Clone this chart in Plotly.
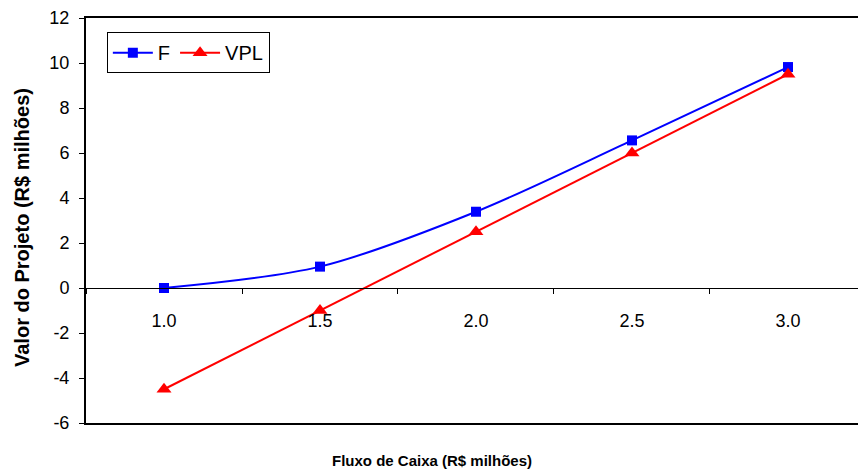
import plotly.graph_objects as go

# Cash flow (R$ millions) on the horizontal axis
fluxo = [1.0, 1.5, 2.0, 2.5, 3.0]
x_tick_text = ["1.0", "1.5", "2.0", "2.5", "3.0"]

# Value axis ticks (plain hyphen for negatives)
y_ticks = [-6, -4, -2, 0, 2, 4, 6, 8, 10, 12]
y_tick_text = ["-6", "-4", "-2", "0", "2", "4", "6", "8", "10", "12"]

# Project value series (R$ millions)
valor_f = [0.0, 0.95, 3.39, 6.56, 9.82]
valor_vpl = [-4.5, -1.0, 2.5, 6.0, 9.5]

FONT = "Arial, 'Liberation Sans', sans-serif"

fig = go.Figure()
fig.add_trace(go.Scatter(
    x=fluxo, y=valor_f, name="F", mode="lines+markers",
    line=dict(color="#0000FF", width=2, shape="spline", smoothing=0.9),
    marker=dict(symbol="square", size=10, color="#0000FF"),
))
fig.add_trace(go.Scatter(
    x=fluxo, y=valor_vpl, name="VPL", mode="lines+markers",
    line=dict(color="#FF0000", width=2),
    marker=dict(symbol="triangle-up", size=13, color="#FF0000"),
))

x_range = [0.75, 3.2244]

fig.update_layout(
    width=858, height=474,
    margin=dict(l=86, r=0, t=18, b=51),
    paper_bgcolor="white", plot_bgcolor="white",
    font=dict(family=FONT, size=18, color="black"),
    showlegend=True,
    legend=dict(
        orientation="h", x=0.027, y=0.965, xanchor="left", yanchor="top",
        bordercolor="black", borderwidth=1, bgcolor="white",
        font=dict(family=FONT, size=20, color="black"),
        itemwidth=40,
    ),
    xaxis=dict(
        range=x_range, showgrid=False, zeroline=False,
        showticklabels=False, ticks="",
        showline=True, linecolor="black", linewidth=2, mirror=True,
    ),
    # category axis drawn across the zero line
    xaxis2=dict(
        overlaying="x", anchor="free", position=1/3, side="bottom",
        range=x_range, showgrid=False, zeroline=False,
        tickmode="array", tickvals=fluxo, ticktext=x_tick_text, ticks="",
        ticklabelstandoff=16,
        showline=True, linecolor="black", linewidth=1,
        minor=dict(tick0=0.75, dtick=0.5, ticks="outside", ticklen=5,
                   tickcolor="black", tickwidth=1, showgrid=False),
        tickfont=dict(family=FONT, size=18, color="black"),
    ),
    yaxis=dict(
        range=[-6, 12], tickmode="array", tickvals=y_ticks, ticktext=y_tick_text,
        showgrid=False, zeroline=False,
        ticks="outside", ticklen=5, tickcolor="black", tickwidth=1,
        showline=True, linecolor="black", linewidth=2,
        ticklabelstandoff=6,
        tickfont=dict(family=FONT, size=18, color="black"),
    ),
)

# invisible trace to activate the zero-line category axis
fig.add_trace(go.Scatter(x=[None], y=[None], xaxis="x2", showlegend=False,
                         hoverinfo="skip"))

fig.add_annotation(
    text="<b>Fluxo de Caixa (R$ milhões)</b>", xref="paper", yref="paper",
    x=(432 - 86) / 772, y=-(460 - 423) / 405, xanchor="center", yanchor="middle",
    showarrow=False, font=dict(family=FONT, size=15, color="black"),
)
fig.add_annotation(
    text="<b>Valor do Projeto (R$ milhões)</b>", xref="paper", yref="paper",
    x=-(86 - 22) / 772, y=(423 - 228) / 405, xanchor="center", yanchor="middle",
    textangle=-90, showarrow=False, font=dict(family=FONT, size=20, color="black"),
)

fig.write_html("out.html")
